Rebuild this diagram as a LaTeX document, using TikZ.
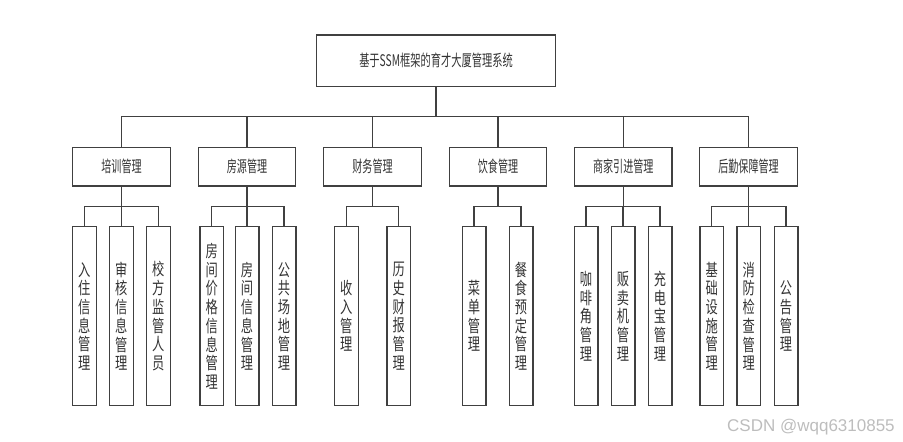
\documentclass[tikz,border=0pt]{standalone}
\usepackage{fontspec}
\newfontfamily\cjktitle[FakeStretch=0.64]{Noto Sans CJK SC}
\newfontfamily\cjkmid[FakeStretch=0.63]{Noto Sans CJK SC}
\newfontfamily\cjksub[FakeStretch=0.72]{Noto Sans CJK SC}
\newfontfamily\marksans{Liberation Sans}
\definecolor{linegray}{HTML}{404040}
\definecolor{textgray}{HTML}{333333}
\definecolor{markgray}{HTML}{BDBDBD}

\begin{document}
\begin{tikzpicture}[x=1pt,y=-1pt,
    topbox/.style={draw=linegray, text=textgray, line width=1.3pt, minimum width=239pt, minimum height=51.7pt, inner sep=0pt, font=\cjktitle\fontsize{16}{18}\selectfont},
    midbox/.style={draw=linegray, text=textgray, line width=1.3pt, minimum width=97.5pt, minimum height=38.3pt, inner sep=0pt, font=\cjkmid\fontsize{16}{18}\selectfont},
    subbox/.style={draw=linegray, text=textgray, line width=1.3pt, minimum width=23.7pt, minimum height=179pt, inner sep=0pt, align=center, font=\cjksub\fontsize{17}{18.7}\selectfont},
    link/.style={linegray, line width=1.3pt}]
                \useasboundingbox (0,0) rectangle (903,442);
                \node[topbox] (top) at (436,60.85) {基于SSM框架的育才大厦管理系统};
                \foreach \name/\x/\label in {p1/121.5/培训管理, p2/247/房源管理, p3/372.5/财务管理,
                                             p4/498/饮食管理, p5/623.3/商家引进管理, p6/748.5/后勤保障管理}{
                    \node[midbox] (\name) at (\x,166.85) {\label};
                    \coordinate (\name bus) at (\x,206.7);
                }
                \foreach \name/\x/\label in {c11/84.3/{入\\住\\信\\息\\管\\理}, c12/121.3/{审\\核\\信\\息\\管\\理}, c13/158.3/{校\\方\\监\\管\\人\\员},
                                             c21/211.7/{房\\间\\价\\格\\信\\息\\管\\理}, c22/247/{房\\间\\信\\息\\管\\理}, c23/284/{公\\共\\场\\地\\管\\理},
                                             c31/346.3/{收\\入\\管\\理}, c32/398.7/{历\\史\\财\\报\\管\\理},
                                             c41/474/{菜\\单\\管\\理}, c42/521/{餐\\食\\预\\定\\管\\理},
                                             c51/586/{咖\\啡\\角\\管\\理}, c52/623/{贩\\卖\\机\\管\\理}, c53/660/{充\\电\\宝\\管\\理},
                                             c61/711.7/{基\\础\\设\\施\\管\\理}, c62/748.7/{消\\防\\检\\查\\管\\理}, c63/786/{公\\告\\管\\理}}{
                    \node[subbox] (\name) at (\x,316.2) {\label};
                }
                \node[anchor=base west, inner sep=0pt, text=markgray, font=\marksans\fontsize{17}{18}\selectfont] (mark) at (727,431.7) {CSDN @wqq6310855};
                % Connections from the system to the modules
                \coordinate (topbus) at (436,116.7);
                \draw[link] (top.south) -- (topbus);
                \foreach \p in {p1,p2,p3,p4,p5,p6}{
                    \draw[link] (topbus) -| (\p.north);
                    \draw[link] (\p.south) -- (\p bus);
                }
                %%%
                % Connections from the modules to their functions
                \foreach \c in {c11,c12,c13} \draw[link] (p1bus) -| (\c.north);
                \foreach \c in {c21,c22,c23} \draw[link] (p2bus) -| (\c.north);
                \foreach \c in {c31,c32} \draw[link] (p3bus) -| (\c.north);
                \foreach \c in {c41,c42} \draw[link] (p4bus) -| (\c.north);
                \foreach \c in {c51,c52,c53} \draw[link] (p5bus) -| (\c.north);
                \foreach \c in {c61,c62,c63} \draw[link] (p6bus) -| (\c.north);
                %%%
            \end{tikzpicture}
\end{document}
